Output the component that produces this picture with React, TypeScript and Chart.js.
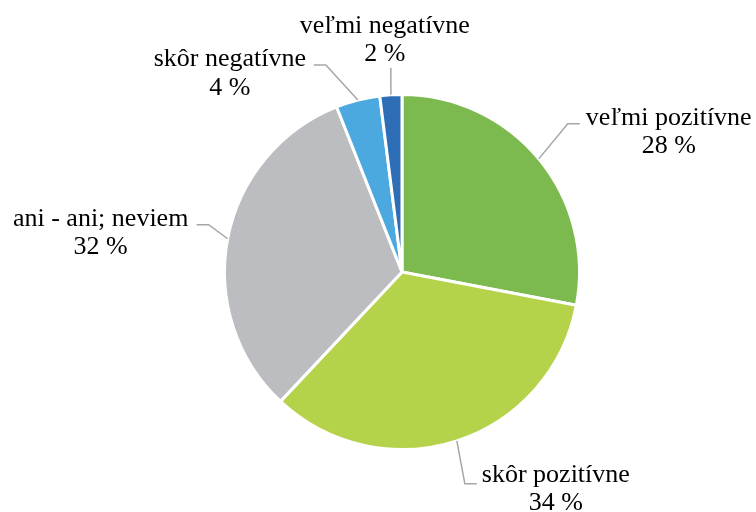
import React, { useEffect, useRef, useState } from "react";
import { Chart, registerables } from "chart.js";

Chart.register(...registerables);

const categories = ["veľmi pozitívne", "skôr pozitívne", "ani - ani; neviem", "skôr negatívne", "veľmi negatívne"];
const values = [28, 34, 32, 4, 2];
const valueLabels = ["28 %", "34 %", "32 %", "4 %", "2 %"];
const colors = ["#7CBA4F", "#B5D24B", "#BCBDC1", "#4BA9E0", "#2E6EB6"];

// leader layout: elbow offset from slice edge, horizontal tail, text centre offset (from tail end, line-1 baseline)
const leaderElbow = [[29, -35], [8, 43], [-19, -14], [-32, -35], [0, -27]];
const leaderTail = [12, 12, -12, -12, 0];
const textOffset = [[89, 2], [79, -1], [-96, 2], [-84, 2], [-6, -34]];

const FONT_FAMILY = '"Liberation Serif", "Times New Roman", Times, serif';
const FONT_SIZE = 26;
const LINE_GAP = 28.5;
const BASELINE_IN_LINE = 23;

type LabelPos = { cx: number; by: number };

function leaderGeometry(arc: any, i: number) {
  const p = arc.getProps(["x", "y", "startAngle", "endAngle", "outerRadius"], true);
  const mid = (p.startAngle + p.endAngle) / 2;
  const ex = p.x + Math.cos(mid) * p.outerRadius;
  const ey = p.y + Math.sin(mid) * p.outerRadius;
  const bx = ex + leaderElbow[i][0];
  const by = ey + leaderElbow[i][1];
  const tx = bx + leaderTail[i];
  return { ex, ey, bx, by, tx };
}

const leaderPlugin = {
  id: "leaderLines",
  afterDraw(chart: any) {
    const ctx = chart.ctx;
    const meta = chart.getDatasetMeta(0);
    ctx.save();
    meta.data.forEach((arc: any, i: number) => {
      const g = leaderGeometry(arc, i);
      ctx.strokeStyle = "#A6A6A6";
      ctx.lineWidth = 1.5;
      ctx.beginPath();
      ctx.moveTo(g.ex, g.ey);
      ctx.lineTo(g.bx, g.by);
      ctx.lineTo(g.tx, g.by);
      ctx.stroke();
    });
    ctx.restore();
  },
};

export default function App() {
  const ref = useRef<HTMLCanvasElement>(null);
  const [labels, setLabels] = useState<LabelPos[]>([]);
  useEffect(() => {
    if (!ref.current) return;
    const chart = new Chart(ref.current, {
      type: "pie",
      data: {
        labels: categories,
        datasets: [
          {
            data: values,
            backgroundColor: colors,
            borderColor: "#FFFFFF",
            borderWidth: 3,
          },
        ],
      },
      options: {
        responsive: false,
        animation: false,
        layout: { padding: { left: 223, right: 175, top: 93, bottom: 61 } },
        plugins: {
          legend: { display: false },
          tooltip: { enabled: false },
        },
      },
      plugins: [leaderPlugin],
    });
    const meta = chart.getDatasetMeta(0);
    const pos = meta.data.map((arc: any, i: number) => {
      const g = leaderGeometry(arc, i);
      return { cx: g.tx + textOffset[i][0], by: g.by + textOffset[i][1] };
    });
    setLabels(pos);
    return () => chart.destroy();
  }, []);
  return (
    <div style={{ position: "absolute", left: 0, top: 0, width: 756, height: 512, background: "#fff", overflow: "hidden" }}>
      <canvas ref={ref} width={756} height={512} style={{ display: "block" }} />
      {labels.map((l, i) => (
        <div
          key={i}
          style={{
            position: "absolute",
            left: l.cx - 150,
            top: l.by - BASELINE_IN_LINE,
            width: 300,
            textAlign: "center",
            fontFamily: FONT_FAMILY,
            fontSize: FONT_SIZE,
            lineHeight: LINE_GAP + "px",
            color: "#000",
            whiteSpace: "nowrap",
          }}
        >
          <div>{categories[i]}</div>
          <div>{valueLabels[i]}</div>
        </div>
      ))}
    </div>
  );
}
